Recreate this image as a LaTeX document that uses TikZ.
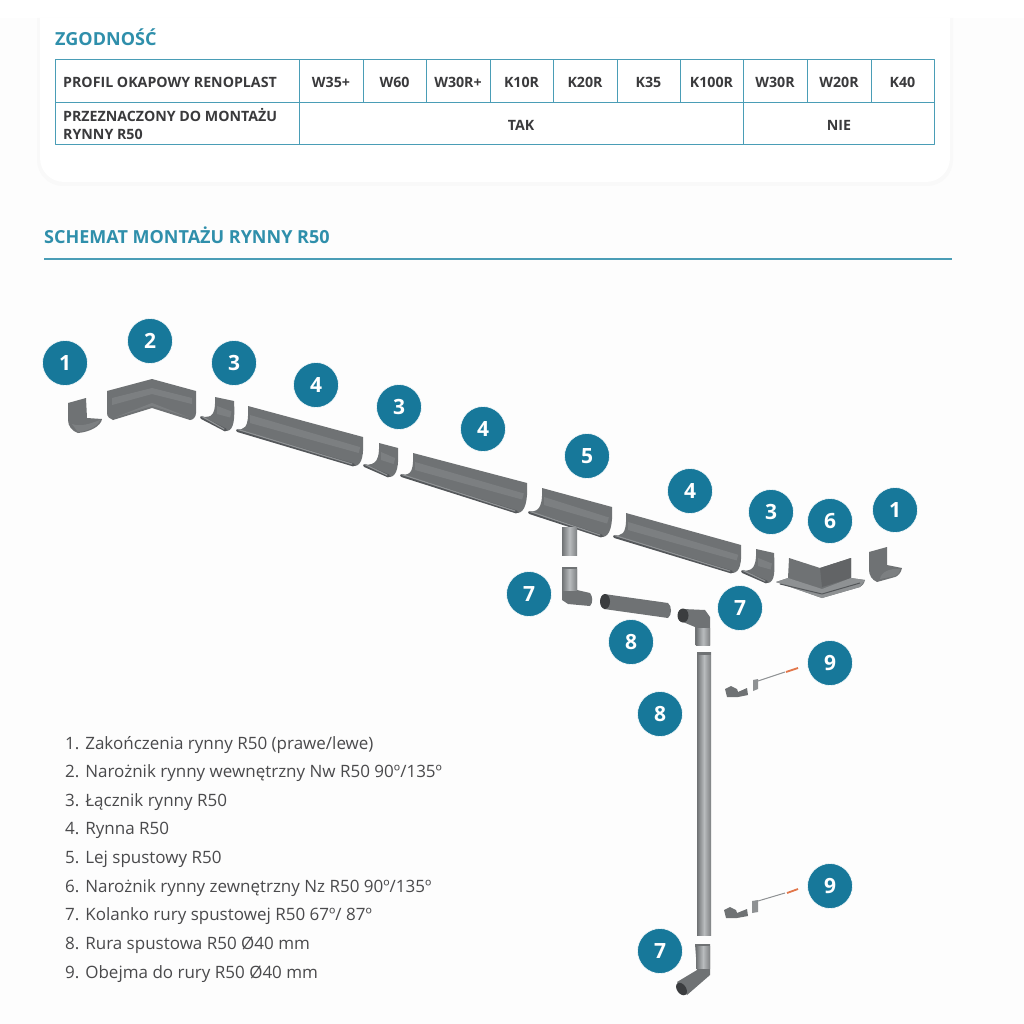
\documentclass[tikz,border=0pt]{standalone}
\usepackage{fontspec}
\setmainfont{Open Sans}
\usetikzlibrary{calc}
\definecolor{tealbadge}{HTML}{17789A}
\definecolor{tealhead}{HTML}{2F8FAB}
\definecolor{tealline}{HTML}{4A9DB6}
\definecolor{tabletext}{HTML}{3A3A3C}
\definecolor{listtext}{HTML}{4A4A4C}
\definecolor{steel}{HTML}{6F7274}
\definecolor{steeldark}{HTML}{54575A}
\definecolor{steellight}{HTML}{8E9193}
\definecolor{pipelight}{HTML}{B9BCBE}
\definecolor{anchorred}{HTML}{E2764A}
\tikzset{
	badge/.style={circle, fill=tealbadge, draw=white, line width=0.6pt, minimum size=45pt, inner sep=0pt, text=white, font=\fontsize{21}{21}\selectfont\bfseries},
	cell/.style={font=\fontsize{14.2}{18}\selectfont\bfseries, text=tabletext, inner sep=0pt},
	rowhead/.style={cell, anchor=west, align=left},
	entry/.style={anchor=base west, inner sep=0pt, text=listtext, font=\fontsize{17}{20}\selectfont},
	heading/.style={anchor=west, inner sep=0pt, text=tealhead, font=\fontsize{18}{22}\selectfont\bfseries},
	grid/.style={draw=tealline, line width=1pt},
	metal/.style={fill=steel},
	metaldark/.style={fill=steeldark},
	metallight/.style={fill=steellight, opacity=0.45},
	tube/.style={left color=steel, right color=steel!90, middle color=pipelight},
	bore/.style={fill=steeldark!70!black},
}
% one straight gutter: back left, back right, front right, front left
\newcommand{\gutterseg}[4]{
	\fill[metal] (#1) -- (#2) .. controls ($(#2)+(1,18)$) and ($(#3)+(7,-1)$) .. (#3)
		-- (#4) .. controls ($(#4)+(8,-1)$) and ($(#1)+(1,24)$) .. (#1) -- cycle;
	\fill[metallight] ($(#1)+(2,9)$) -- ($(#2)!0.35!(#3)$) -- ($(#2)!0.55!(#3)$) -- ($(#1)+(2,17)$) -- cycle;
	\draw[steeldark, line width=3pt, line cap=round] ($(#4)+(1.5,0.5)$) -- ($(#3)+(-1.5,-1)$);
	\draw[steellight, line width=1.2pt, line cap=round] ($(#4)+(2,-0.5)$) -- ($(#3)+(-3,-2)$);
}
\begin{document}
\begin{tikzpicture}[x=1pt, y=-1pt, line join=round]
	\useasboundingbox (0,0) rectangle (1024,1024);
	\fill[white!99.3!black] (0,0) rectangle (1024,1024);
	
	% Panel with the table
	\fill[white] (0,0) rectangle (1024,18);
	\fill[black!2.5] (37,18) -- (37,160) arc[start angle=180, end angle=90, radius=26] -- (927,186) arc[start angle=90, end angle=0, radius=26] -- (953,18) -- cycle;
	\fill[white] (40,18) -- (40,158) arc[start angle=180, end angle=90, radius=24] -- (926,182) arc[start angle=90, end angle=0, radius=24] -- (950,18) -- cycle;
	\node[heading] (zgodnosc) at (55,37) {ZGODNOŚĆ};
	
	% Table lines
	\draw[grid] (55,60) rectangle (934,145);
	\draw[grid] (55,103) -- (934,103);
	\draw[grid] (299,60) -- (299,145);
	\draw[grid] (743,60) -- (743,145);
	\foreach \px in {363,426,490,553,617,680,807,871}
		\draw[grid] (\px,60) -- (\px,103);
	
	% Table texts
	\node[rowhead] (profil) at (63,82) {PROFIL OKAPOWY RENOPLAST};
	\node[rowhead] (przezn) at (63,124.5) {PRZEZNACZONY DO MONTAŻU\\RYNNY R50};
	\node[cell] (w35) at (331,82) {W35+}; \node[cell] (w60) at (394.5,82) {W60};
	\node[cell] (w30p) at (458,82) {W30R+}; \node[cell] (k10) at (521.5,82) {K10R};
	\node[cell] (k20) at (585,82) {K20R}; \node[cell] (k35) at (648.5,82) {K35};
	\node[cell] (k100) at (711.5,82) {K100R}; \node[cell] (w30) at (775,82) {W30R};
	\node[cell] (w20) at (839,82) {W20R}; \node[cell] (k40) at (902.5,82) {K40};
	\node[cell] (tak) at (521,125) {TAK}; \node[cell] (nie) at (839,125) {NIE};
	
	% Section title
	\node[heading] (schemat) at (44,235.5) {SCHEMAT MONTAŻU RYNNY R50};
	\draw[tealline, line width=1.2pt] (44,259) -- (952,259);
	
	% Straight gutters and connectors
	\gutterseg{248,406}{363,437}{355,466}{236,430}
	\gutterseg{413,453}{527,483}{518,513}{400,475}
	\gutterseg{542,488}{612,507}{603,537}{528,512}
	\gutterseg{626,513}{741,545}{733,573}{613,536}
	\gutterseg{215,397}{234,401}{227,431}{200,417}
	\gutterseg{379,443}{398,448}{390,477}{363,465}
	\gutterseg{756,549}{774,553}{768,583}{741,571}
	
	% End caps
	\fill[metal] (68,403) -- (86,398) -- (87,418) -- (102,419) .. controls (101,426) and (90,432) .. (78,433) .. controls (72,431) and (68,426) .. (68,420) -- cycle;
	\fill[metallight] (72,424) .. controls (80,427) and (90,424) .. (100,420) .. controls (98,426) and (88,431) .. (78,432) -- cycle;
	\fill[metal] (869,552) -- (887,547) -- (887,565) -- (902,568) .. controls (901,573) and (898,576) .. (895,577) -- (877,582) .. controls (872,580) and (869,575) .. (869,570) -- cycle;
	\fill[metallight] (880,579) .. controls (881,572) and (890,568) .. (900,569) .. controls (900,573) and (897,575) .. (895,576) -- cycle;
	
	% Inner corner
	\fill[metal] (107,391) -- (152,379) -- (196,391) -- (196,413) .. controls (196,417) and (193,420) .. (190,420) -- (152,408) -- (113,420) .. controls (110,419) and (107,417) .. (107,413) -- cycle;
	\fill[metallight] (112,398) -- (152,388) -- (192,398) -- (192,404) -- (152,394) -- (112,405) -- cycle;
	\fill[metallight] (116,417) -- (152,406) -- (188,417) -- (152,403) -- cycle;
	
	% Outer corner
	\fill[metal] (789,558) -- (820,568) -- (851,558) -- (851,578) -- (865,580) .. controls (864,584) and (862,586) .. (860,587) -- (822,598) -- (776,582) -- (788,578) -- cycle;
	\fill[steel!88!black] (820,568) -- (851,558) -- (851,578) -- (822,587) -- cycle;
	\fill[steellight] (776,582) -- (788,578) -- (822,589) -- (851,578) -- (865,580) -- (860,587) -- (822,598) -- cycle;
	\draw[steeldark, line width=1pt] (780,584) -- (822,594) -- (860,583);
	
	% Outlet of the funnel
	\shade[tube] (562,527) rectangle (577,555);
	
	% Elbows
	\fill[metal] (562,567) -- (577,567) -- (577,590) -- (590,593) .. controls (593,597) and (593,603) .. (590,606) -- (568,604) -- (562,600) -- cycle;
	\shade[tube] (562,569) rectangle (577,590);
	\fill[metal] (683,609) -- (705,610) -- (710,617) -- (710,645) -- (695,645) -- (695,627) -- (683,622) -- cycle;
	\shade[tube] (696,628) rectangle (710,645);
	\fill[bore] (683,615.5) ellipse[x radius=5.5, y radius=7];
	\fill[metal] (695,944) -- (710,944) -- (710,975) -- (687,995) -- (677,982) -- (697,970) -- cycle;
	\shade[tube] (696,946) rectangle (710,968);
	\fill[bore, rotate around={35:(681.5,989)}] (681.5,989) ellipse[x radius=4.5, y radius=7];
	
	% Pipes
	\fill[metal] (604,594) -- (668,603) .. controls (672,606) and (672,615) .. (668,618) -- (604,609) -- cycle;
	\fill[bore] (605,601.5) ellipse[x radius=5, y radius=7.5];
	\shade[tube] (697,652) rectangle (711,935);
	\fill[metal] (697,652) rectangle (711,655);
	
	% Upper bracket
	\fill[metal] (725,689) -- (731,686) -- (737,689) -- (738,692) -- (747,688) -- (748,695) -- (738,697) -- (727,697) -- cycle;
	\fill[steellight] (753,680) -- (758,679) -- (758,689) -- (753,691) -- cycle;
	\draw[steellight, line width=1pt] (758,681) -- (785,672);
	\draw[anchorred, line width=1.8pt] (786,672) -- (798,668);
	
	% Lower bracket
	\fill[metal] (724,910) -- (730,907) -- (736,910) -- (737,913) -- (747,909) -- (748,916) -- (737,918) -- (726,918) -- cycle;
	\fill[steellight] (752,901) -- (758,900) -- (758,912) -- (752,913) -- cycle;
	\draw[steellight, line width=1pt] (758,901) -- (785,893);
	\draw[anchorred, line width=1.8pt] (787,893) -- (798,889);
	
	% Number badges
	\node[badge] (endleft) at (65,363) {1}; \node[badge] (inner) at (150,341) {2};
	\node[badge] (joina) at (234,363) {3}; \node[badge] (guta) at (316,385) {4};
	\node[badge] (joinb) at (399,407) {3}; \node[badge] (gutb) at (483,429) {4};
	\node[badge] (funnel) at (587,456) {5}; \node[badge] (gutc) at (690,491) {4};
	\node[badge] (joinc) at (771,512) {3}; \node[badge] (outer) at (830,521) {6};
	\node[badge] (endright) at (895,510) {1}; \node[badge] (elbowa) at (529,594) {7};
	\node[badge] (elbowb) at (740,608) {7}; \node[badge] (pipea) at (631,642) {8};
	\node[badge] (clampa) at (830,663) {9}; \node[badge] (pipeb) at (660,714) {8};
	\node[badge] (clampb) at (830,886) {9}; \node[badge] (elbowc) at (660,951) {7};
	
	% Legend
	\node[entry] (item1) at (65,749) {1. Zakończenia rynny R50 (prawe/lewe)};
	\node[entry] (item2) at (65,777.5) {2. Narożnik rynny wewnętrzny Nw R50 90º/135º};
	\node[entry] (item3) at (65,806) {3. Łącznik rynny R50};
	\node[entry] (item4) at (65,834) {4. Rynna R50};
	\node[entry] (item5) at (65,863) {5. Lej spustowy R50};
	\node[entry] (item6) at (65,892) {6. Narożnik rynny zewnętrzny Nz R50 90º/135º};
	\node[entry] (item7) at (65,920) {7. Kolanko rury spustowej R50 67º/ 87º};
	\node[entry] (item8) at (65,949) {8. Rura spustowa R50 Ø40 mm};
	\node[entry] (item9) at (65,978) {9. Obejma do rury R50 Ø40 mm};
\end{tikzpicture}
\end{document}
